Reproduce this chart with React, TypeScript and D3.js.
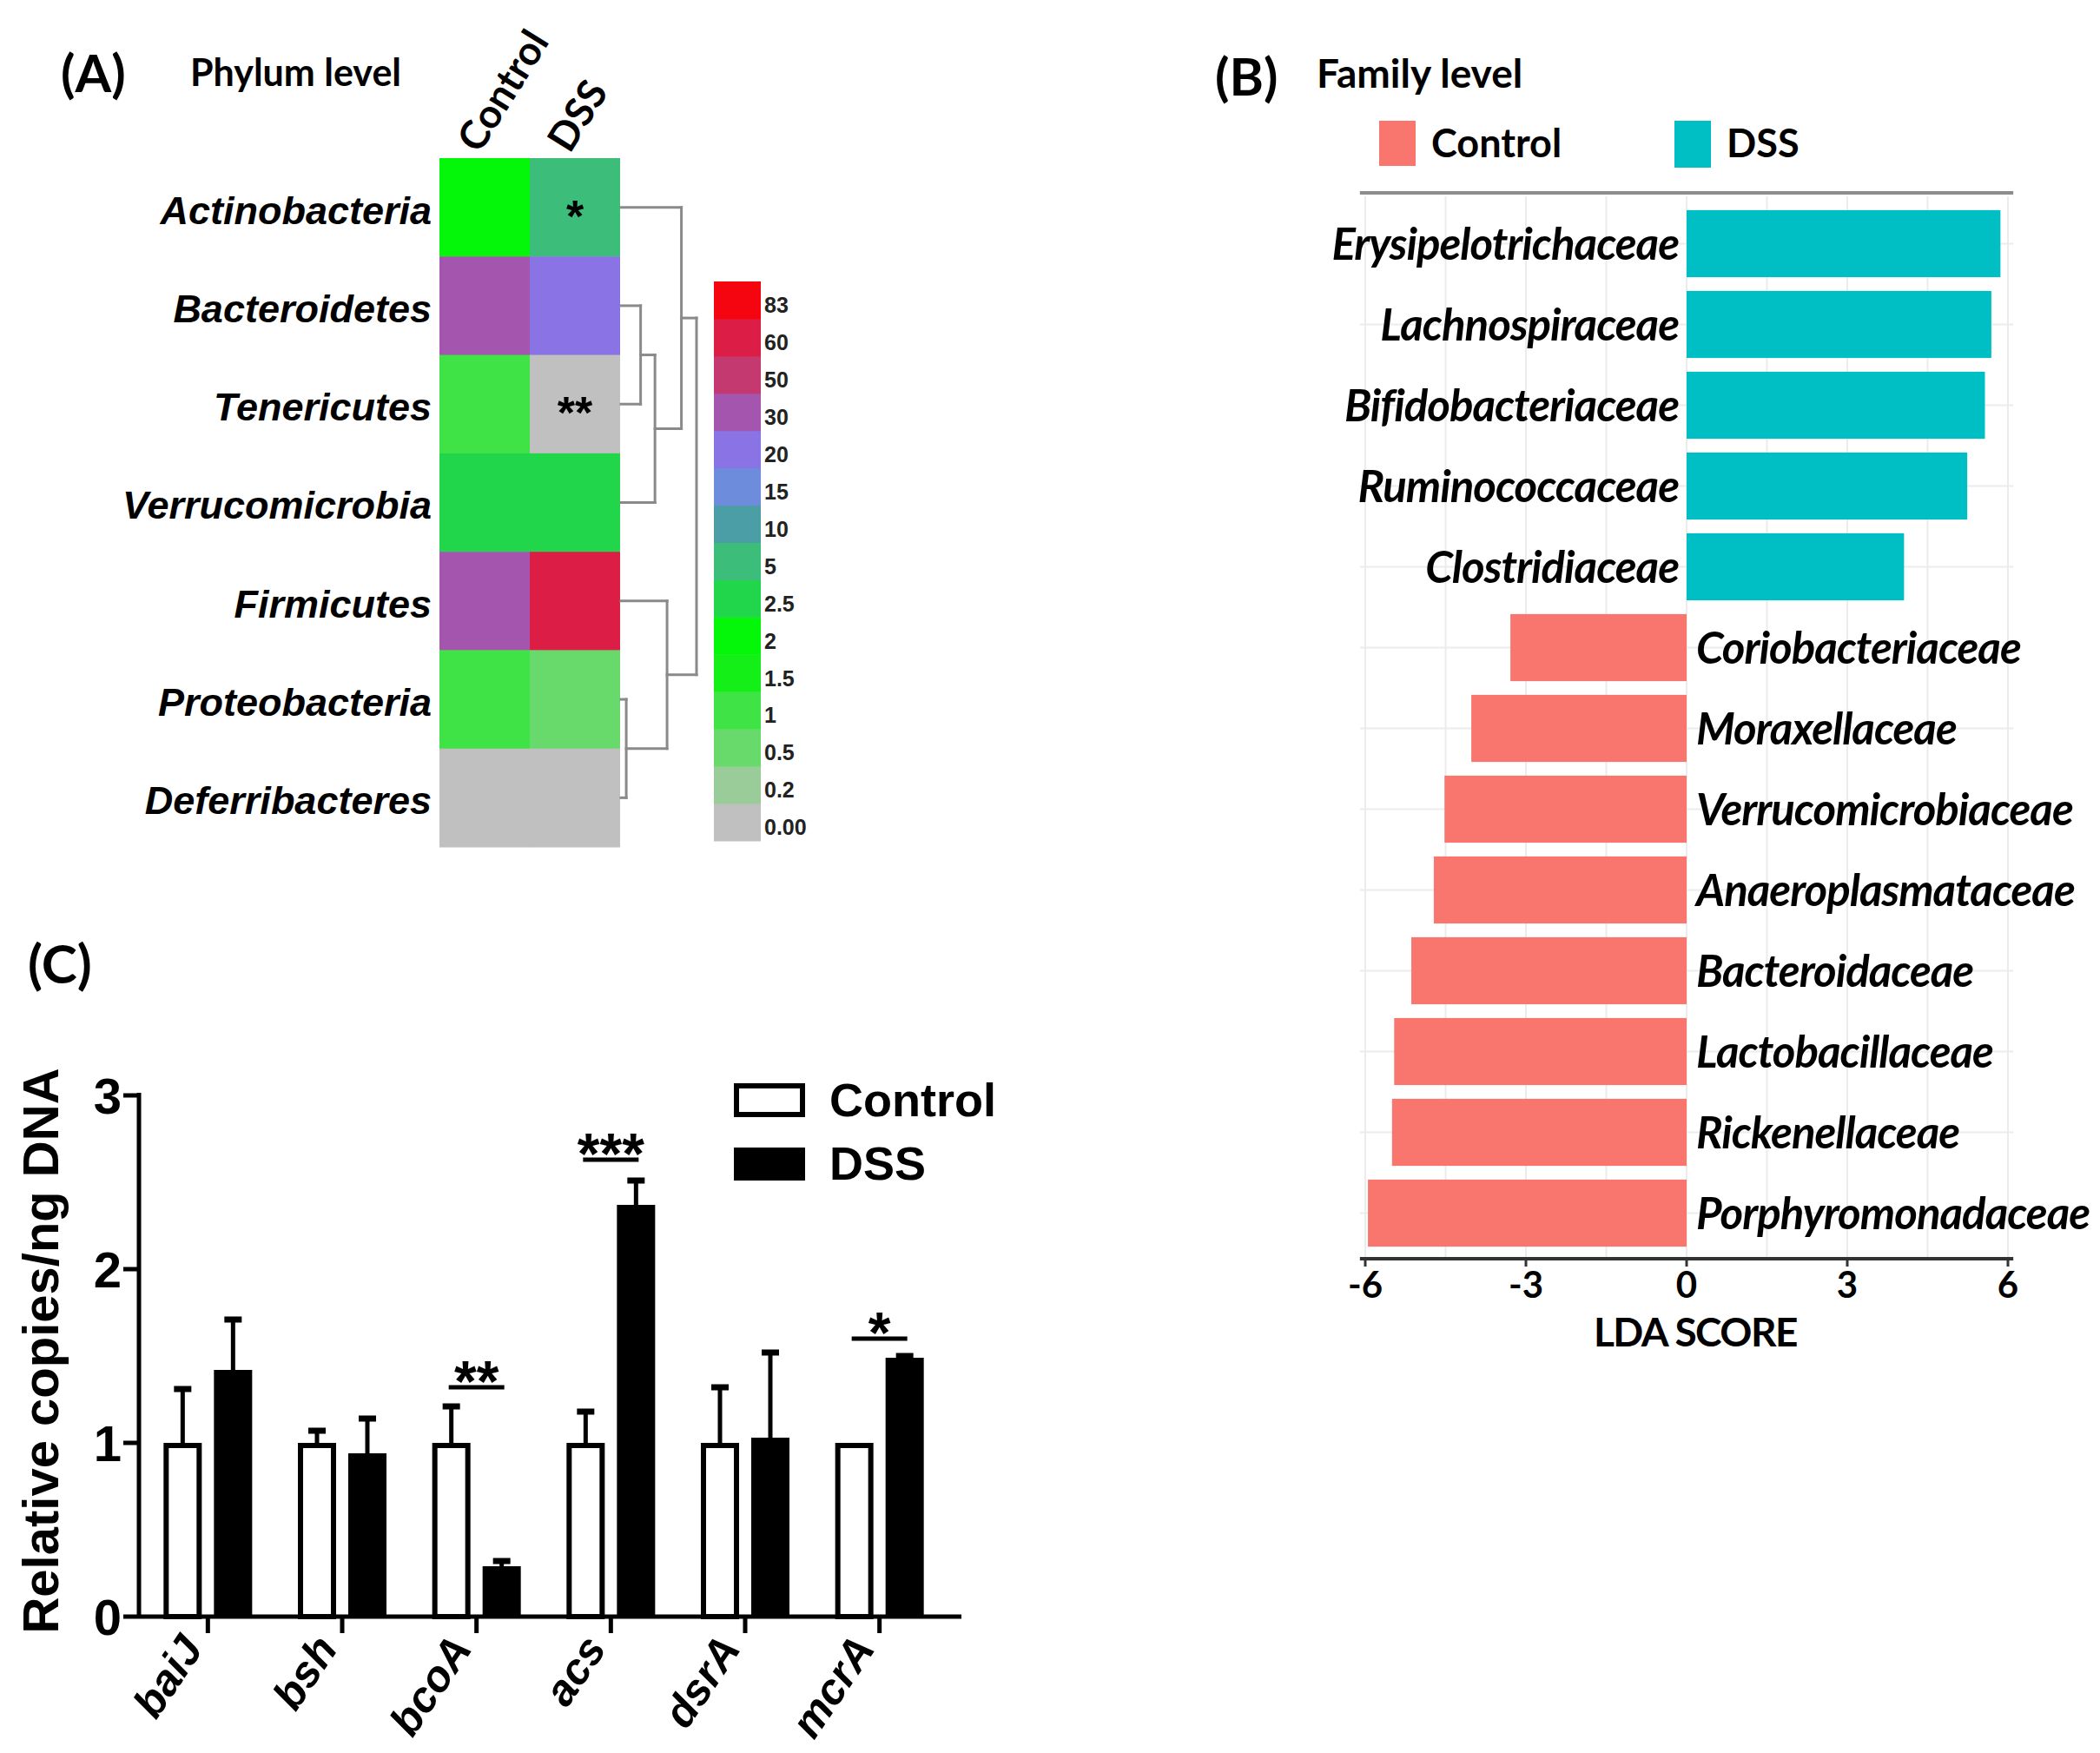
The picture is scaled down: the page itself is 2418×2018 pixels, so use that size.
import React from 'react';
import * as d3 from 'd3';

// ---- Panel A: phylum heatmap ----
const phyla = ['Actinobacteria', 'Bacteroidetes', 'Tenericutes', 'Verrucomicrobia', 'Firmicutes', 'Proteobacteria', 'Deferribacteres'];
const heatGroups = ['Control', 'DSS'];
const controlAbund = [2.2, 36, 1.2, 3.1, 42, 1.3, 0.08];
const dssAbund = [6.5, 24, 0.05, 3.3, 65, 0.7, 0.03];
const dssStars = ['*', '', '**', '', '', '', ''];
const legendBreaks = [0, 0.2, 0.5, 1, 1.5, 2, 2.5, 5, 10, 15, 20, 30, 50, 60, 83];
const legendLabels = ['0.00', '0.2', '0.5', '1', '1.5', '2', '2.5', '5', '10', '15', '20', '30', '50', '60', '83'];
const legendColors = ['#c0c0c0', '#9acc9a', '#68da6c', '#40e345', '#14ef18', '#04f608', '#22d64c', '#3dbd7a', '#4c9ea6', '#6e8cdc', '#8a73e4', '#a455ae', '#c43a70', '#dc1e46', '#f5050f'];
// cluster tree, h = merge height (0..1)
const dendroTree = {
  h: 1.0,
  children: [
    {
      h: 0.8,
      children: [
        { name: 'Actinobacteria' },
        { h: 0.45, children: [{ h: 0.26, children: [{ name: 'Bacteroidetes' }, { name: 'Tenericutes' }] }, { name: 'Verrucomicrobia' }] },
      ],
    },
    { h: 0.61, children: [{ name: 'Firmicutes' }, { h: 0.07, children: [{ name: 'Proteobacteria' }, { name: 'Deferribacteres' }] }] },
  ],
};

// ---- Panel B: LEfSe ----
const families = ['Erysipelotrichaceae', 'Lachnospiraceae', 'Bifidobacteriaceae', 'Ruminococcaceae', 'Clostridiaceae', 'Coriobacteriaceae', 'Moraxellaceae', 'Verrucomicrobiaceae', 'Anaeroplasmataceae', 'Bacteroidaceae', 'Lactobacillaceae', 'Rickenellaceae', 'Porphyromonadaceae'];
const ldaScores = [5.86, 5.69, 5.57, 5.24, 4.06, -3.29, -4.02, -4.52, -4.72, -5.14, -5.46, -5.5, -5.95];
const ldaTicks = [-6, -3, 0, 3, 6];

// ---- Panel C: gene copies ----
const genes = ['baiJ', 'bsh', 'bcoA', 'acs', 'dsrA', 'mcrA'];
const controlMean = [1, 1, 1, 1, 1, 1];
const controlErr = [0.31, 0.07, 0.21, 0.18, 0.32, 0];
const dssMean = [1.42, 0.94, 0.29, 2.37, 1.03, 1.49];
const dssErr = [0.29, 0.2, 0.03, 0.14, 0.49, 0.01];
const sigMarks = ['', '', '**', '***', '', '*'];
const sigLevel = [0, 0, 1.32, 2.63, 0, 1.6];
const relTicks = [0, 1, 2, 3];

const CAL = 'Lato, "Open Sans", sans-serif';
const ARI = '"Liberation Sans", Arial, sans-serif';

const PanelA = () => {
  const hx = d3.scaleBand().domain(heatGroups).range([506, 714]);
  const hy = d3.scaleBand().domain(phyla).range([182, 975]);
  const color = d3.scaleThreshold<number, string>().domain(legendBreaks.slice(1)).range(legendColors);
  const dx = d3.scaleLinear().domain([0, 1]).range([715, 802]);
  const ly = d3.scaleBand().domain(legendLabels.slice().reverse()).range([324, 968]);

  const root = d3.hierarchy<any>(dendroTree);
  const yPos = new Map<any, number>();
  root.eachAfter((n) => {
    if (!n.children) yPos.set(n, (hy(n.data.name) as number) + hy.bandwidth() / 2);
    else yPos.set(n, d3.mean(n.children, (c) => yPos.get(c)) as number);
  });
  const segs: number[][] = [];
  root.each((n) => {
    if (!n.children) return;
    const xh = dx(n.data.h);
    const ys = n.children.map((c) => yPos.get(c) as number);
    segs.push([xh, ys[0], xh, ys[1]]);
    n.children.forEach((c, i) => segs.push([dx(c.data.h ?? 0), ys[i], xh, ys[i]]));
  });

  return (
    <g>
      <text x={70} y={106} fontFamily={CAL} fontWeight={700} fontSize={60}>(A)</text>
      <text x={219} y={99} fontFamily={CAL} fontWeight={700} fontSize={43}>Phylum level</text>
      {heatGroups.map((g) => (
        <text key={g} transform={`translate(${(hx(g) as number) + hx.bandwidth() / 2 - 6},178) rotate(-58)`}
          fontFamily={CAL} fontWeight={700} fontSize={46}>{g}</text>
      ))}
      {phyla.map((p, i) => (
        <g key={p}>
          <rect x={hx('Control')} y={hy(p)} width={hx.bandwidth() + 0.5} height={hy.bandwidth() + 0.5} fill={color(controlAbund[i])} />
          <rect x={hx('DSS')} y={hy(p)} width={hx.bandwidth()} height={hy.bandwidth() + 0.5} fill={color(dssAbund[i])} />
          <text x={497} y={(hy(p) as number) + hy.bandwidth() / 2} dy="0.42em" textAnchor="end"
            fontFamily={ARI} fontWeight={700} fontStyle="italic" fontSize={45}>{p}</text>
          {dssStars[i] && (
            <text x={(hx('DSS') as number) + hx.bandwidth() / 2} y={(hy(p) as number) + hy.bandwidth() / 2 + 28}
              textAnchor="middle" fontFamily={ARI} fontWeight={700} fontSize={52}>{dssStars[i]}</text>
          )}
        </g>
      ))}
      {segs.map((s, i) => (
        <line key={i} x1={s[0]} y1={s[1]} x2={s[2]} y2={s[3]} stroke="#8a8a8a" strokeWidth={3} strokeLinecap="square" />
      ))}
      {legendLabels.map((l, i) => (
        <g key={l}>
          <rect x={822} y={ly(l)} width={54} height={ly.bandwidth() + 0.5} fill={legendColors[i]} />
          <text x={880} y={(ly(l) as number) + ly.bandwidth() * 0.64} dy="0.35em" fontFamily={ARI}
            fontWeight={700} fontSize={25} fill="#222">{l}</text>
        </g>
      ))}
    </g>
  );
};

const PanelB = () => {
  const x = d3.scaleLinear().domain([-6, 6]).range([1572, 2312]);
  const y = d3.scaleBand().domain(families).range([234, 1443]).paddingInner(0.17).paddingOuter(0.085);
  const grid = d3.range(-6, 6.01, 1.5);
  return (
    <g>
      <text x={1399} y={110} fontFamily={CAL} fontWeight={700} fontSize={60}>(B)</text>
      <text x={1516} y={101} fontFamily={CAL} fontWeight={700} fontSize={46}>Family level</text>
      <rect x={1588} y={139} width={42} height={52} fill="#f8766d" />
      <text x={1648} y={165} dy="0.36em" fontFamily={CAL} fontWeight={700} fontSize={45}>Control</text>
      <rect x={1928} y={139} width={42} height={54} fill="#00bfc4" />
      <text x={1988} y={165} dy="0.36em" fontFamily={CAL} fontWeight={700} fontSize={45}>DSS</text>
      {grid.map((g) => (
        <line key={g} x1={x(g)} x2={x(g)} y1={226} y2={1447} stroke="#ececec" strokeWidth={2} />
      ))}
      {families.map((f) => (
        <line key={f} x1={x(-6.1)} x2={x(6.1)} y1={(y(f) as number) + y.bandwidth() / 2} y2={(y(f) as number) + y.bandwidth() / 2}
          stroke="#ececec" strokeWidth={2} />
      ))}
      <line x1={x(-6.1)} x2={x(6.1)} y1={222} y2={222} stroke="#8c8c8c" strokeWidth={4} />
      {families.map((f, i) => {
        const v = ldaScores[i];
        const yc = (y(f) as number) + y.bandwidth() / 2;
        return (
          <g key={f}>
            <rect x={x(Math.min(0, v))} y={y(f)} width={Math.abs(x(v) - x(0))} height={y.bandwidth()}
              fill={v > 0 ? '#00bfc4' : '#f8766d'} />
            <text x={v > 0 ? x(0) - 9 : x(0) + 11} y={yc} dy="0.36em" textAnchor={v > 0 ? 'end' : 'start'}
              fontFamily={CAL} fontWeight={700} fontStyle="italic" fontSize={51} letterSpacing={-1}>{f}</text>
          </g>
        );
      })}
      <line x1={x(-6.1)} x2={x(6.1)} y1={1449} y2={1449} stroke="#333" strokeWidth={4} />
      {ldaTicks.map((t) => (
        <g key={t}>
          <line x1={x(t)} x2={x(t)} y1={1449} y2={1458} stroke="#333" strokeWidth={3} />
          <text x={x(t)} y={1494} textAnchor="middle" fontFamily={CAL} fontWeight={700} fontSize={42}>{t}</text>
        </g>
      ))}
      <text x={1952} y={1550} textAnchor="middle" fontFamily={CAL} fontWeight={700} fontSize={46} letterSpacing={-1.5}>LDA SCORE</text>
    </g>
  );
};

const PanelC = () => {
  const x = d3.scaleBand().domain(genes).range([162, 1090]);
  const y = d3.scaleLinear().domain([0, 3]).range([1861, 1261]);
  const off = 29;
  const bw = 44;
  const cap = 10;
  return (
    <g>
      <text x={32} y={1132} fontFamily={CAL} fontWeight={700} fontSize={62}>(C)</text>
      <text transform="translate(67,1555) rotate(-90)" textAnchor="middle" fontFamily={ARI} fontWeight={700} fontSize={58}>
        Relative copies/ng DNA
      </text>
      {genes.map((g, i) => {
        const c = (x(g) as number) + x.bandwidth() / 2;
        const cx = c - off;
        const dxx = c + off;
        return (
          <g key={g}>
            {controlErr[i] > 0 && (
              <g stroke="#000" strokeWidth={5}>
                <line x1={cx} x2={cx} y1={y(controlMean[i])} y2={y(controlMean[i] + controlErr[i])} />
                <line x1={cx - cap} x2={cx + cap} y1={y(controlMean[i] + controlErr[i])} y2={y(controlMean[i] + controlErr[i])} strokeWidth={7} />
              </g>
            )}
            <rect x={cx - bw / 2 + 3} y={y(controlMean[i]) + 3} width={bw - 6} height={y(0) - y(controlMean[i]) - 3}
              fill="#fff" stroke="#000" strokeWidth={6} />
            <g stroke="#000" strokeWidth={5}>
              <line x1={dxx} x2={dxx} y1={y(dssMean[i])} y2={y(dssMean[i] + dssErr[i])} />
              <line x1={dxx - cap} x2={dxx + cap} y1={y(dssMean[i] + dssErr[i])} y2={y(dssMean[i] + dssErr[i])} strokeWidth={7} />
            </g>
            <rect x={dxx - bw / 2} y={y(dssMean[i])} width={bw} height={y(0) - y(dssMean[i])} fill="#000" />
            {sigMarks[i] && (
              <g>
                <line x1={c - 32} x2={c + 32} y1={y(sigLevel[i])} y2={y(sigLevel[i])} stroke="#000" strokeWidth={5} />
                <text x={c} y={y(sigLevel[i]) + 16} textAnchor="middle" fontFamily={ARI} fontWeight={700} fontSize={66}>
                  {sigMarks[i]}
                </text>
              </g>
            )}
            <line x1={c} x2={c} y1={1861} y2={1880} stroke="#000" strokeWidth={5} />
            <text transform={`translate(${c - 4},1898) rotate(-56)`} textAnchor="end" fontFamily={ARI}
              fontWeight={700} fontStyle="italic" fontSize={50}>{g}</text>
          </g>
        );
      })}
      <line x1={160} x2={1107} y1={1861} y2={1861} stroke="#000" strokeWidth={5} />
      <line x1={160} x2={160} y1={1258} y2={1863} stroke="#000" strokeWidth={5} />
      {relTicks.map((t) => (
        <g key={t}>
          <line x1={142} x2={160} y1={y(t)} y2={y(t)} stroke="#000" strokeWidth={5} />
          <text x={140} y={y(t)} dy="0.36em" textAnchor="end" fontFamily={ARI} fontWeight={700} fontSize={58}>{t}</text>
        </g>
      ))}
      <rect x={848} y={1250} width={76} height={33} fill="#fff" stroke="#000" strokeWidth={6} />
      <text x={955} y={1285} fontFamily={ARI} fontWeight={700} fontSize={54}>Control</text>
      <rect x={845} y={1321} width={82} height={38} fill="#000" />
      <text x={955} y={1358} fontFamily={ARI} fontWeight={700} fontSize={54}>DSS</text>
    </g>
  );
};

export default function App() {
  return (
    <svg width={2418} height={2018} viewBox="0 0 2418 2018" style={{ position: 'absolute', left: 0, top: 0, background: '#fff' }}>
      <rect width={2418} height={2018} fill="#fff" />
      <PanelA />
      <PanelB />
      <PanelC />
    </svg>
  );
}
